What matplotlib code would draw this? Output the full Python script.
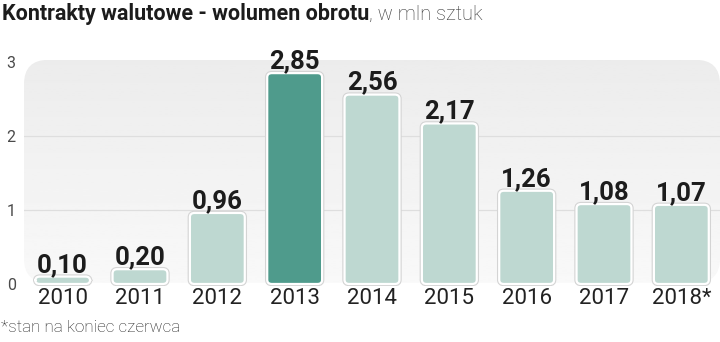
import matplotlib
matplotlib.use("Agg")
import matplotlib.pyplot as plt
import numpy as np
from matplotlib.patches import FancyBboxPatch

# ── data ───────────────────────────────────────────────────────────────────
years = ["2010", "2011", "2012", "2013", "2014", "2015", "2016", "2017", "2018*"]
volume = [0.10, 0.20, 0.96, 2.85, 2.56, 2.17, 1.26, 1.08, 1.07]
highlight = "2013"

# ── colours ────────────────────────────────────────────────────────────────
C_BAR   = "#bed8d1"
C_HIGH  = "#4f9b8c"
C_GRID  = "#dedede"
C_TEXT  = "#222222"

fig = plt.figure(figsize=(7.2, 3.42), dpi=100)
ax = fig.add_axes([24 / 720, 55.8 / 342, 696 / 720, 226.4 / 342])
ax.set_xlim(-0.5, len(years) - 0.5)
ax.set_ylim(-0.03, 3.03)
ax.patch.set_alpha(0)
for s in ax.spines.values():
    s.set_visible(False)

# rounded grey panel (soft vertical gradient) behind the bars
panel = FancyBboxPatch((0, 0.015), 1, 0.985,
                       boxstyle="round,pad=0,rounding_size=0.035",
                       transform=ax.transAxes, facecolor="none",
                       edgecolor="none", zorder=0, mutation_aspect=696 / 226.4)
ax.add_patch(panel)
grad = np.linspace(0.975, 0.925, 100).reshape(-1, 1)
img = ax.imshow(grad, cmap="gray", vmin=0, vmax=1, aspect="auto",
                extent=[0, 1, 1, 0], transform=ax.transAxes, zorder=0)
img.set_clip_path(panel)

for v in (1, 2):
    ax.axhline(v, color=C_GRID, lw=0.9, zorder=1)

bw = 0.71
asp = 77.3 / 74.0
for i, (yr, val) in enumerate(zip(years, volume)):
    col = C_HIGH if yr == highlight else C_BAR
    kw = dict(boxstyle="round,pad=0,rounding_size=0.06", mutation_aspect=1 / asp)
    ax.add_patch(FancyBboxPatch((i - bw / 2, 0), bw, val, facecolor=col,
                                edgecolor="#d4d4d4", lw=3.2, zorder=2, **kw))
    ax.add_patch(FancyBboxPatch((i - bw / 2, 0), bw, val, facecolor=col,
                                edgecolor="white", lw=1.6, zorder=3, **kw))
    ax.annotate(f"{val:.2f}".replace(".", ","), (i, val), xytext=(0, 3.5),
                textcoords="offset points", ha="center", va="baseline",
                fontsize=18.5, fontweight="bold", family="Roboto",
                color="#1c1c1c", zorder=5)

ax.set_xticks(range(len(years)))
ax.set_xticklabels(years, fontsize=16, color=C_TEXT, family="Roboto")
ax.set_yticks([0, 1, 2, 3])
ax.set_yticklabels(["0", "1", "2", "3"], fontsize=11.5, color="#4a4a4a",
                   family="Roboto")
ax.tick_params(axis="x", length=0, pad=1)
ax.tick_params(axis="y", length=0, pad=6)

# title and footnote
title = fig.text(2 / 720, 1 - 20 / 342, "Kontrakty walutowe - wolumen obrotu",
                 fontsize=15.5, fontweight="bold", family="Roboto",
                 color="#1c1c1c", va="baseline", ha="left")
fig.canvas.draw()
tx1 = title.get_window_extent().x1
fig.text(tx1 / 720, 1 - 20 / 342, ", w mln sztuk", fontsize=14.5,
         family="Roboto", fontweight="light", color="#333333",
         va="baseline", ha="left")
fig.text(1 / 720, 1 - 328 / 342, "*stan na koniec czerwca", fontsize=12.3,
         family="Roboto", fontweight="light", color=C_TEXT,
         va="center", ha="left")

fig.savefig("out.png", dpi=100)
